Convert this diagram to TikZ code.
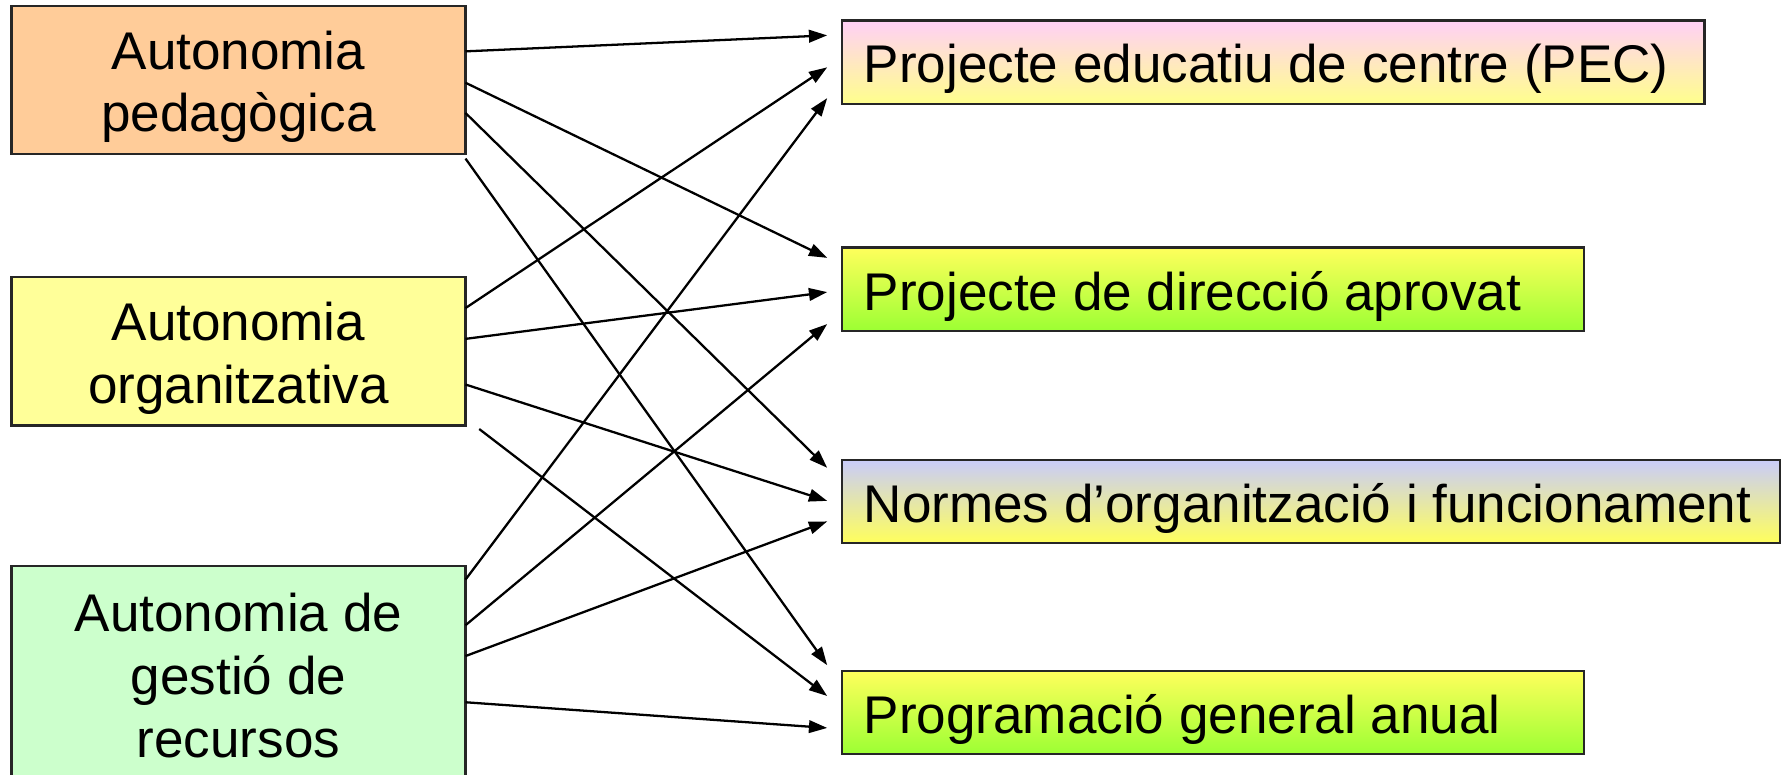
\documentclass[tikz,border=0pt]{standalone}
\usepackage{fontspec}
\setmainfont{Liberation Sans}
\usetikzlibrary{arrows.meta}
\definecolor{lorange}{HTML}{FFCC99}
\definecolor{lyellow}{HTML}{FFFF99}
\definecolor{lgreen}{HTML}{CCFFCC}
\definecolor{gpink}{HTML}{FFD0F6}
\definecolor{gyel}{HTML}{FFFF8C}
\definecolor{gyel2}{HTML}{FFFF5C}
\definecolor{ggreen}{HTML}{9CFF33}
\definecolor{glav}{HTML}{C9CCFA}
\begin{document}
\begin{tikzpicture}[x=1pt,y=-1pt,
  every node/.style={inner sep=0pt, outer sep=0pt},
  lbox/.style={draw=black!85, line width=2pt, minimum width=398pt, anchor=north west},
  ltext/.style={align=center, font=\fontsize{46.5}{55}\selectfont},
  rbox/.style={draw=black!85, line width=2pt, minimum height=73pt, anchor=north west},
  rtext/.style={anchor=west, font=\fontsize{46.5}{53}\selectfont},
  arr/.style={line width=2pt, -{Triangle[length=16pt,width=11pt]}}]
\useasboundingbox (0,0) rectangle (1568,678.4);
% left boxes
\node[lbox, fill=lorange, minimum height=130pt] (A) at (10,5) {};
\node[lbox, fill=lyellow, minimum height=130pt] (B) at (10,243) {};
\node[lbox, fill=lgreen, minimum height=200pt] (C) at (10,496) {};
\node[ltext] (At) at (209,76) {Autonomia\\pedagògica};
\node[ltext] (Bt) at (209,314) {Autonomia\\organitzativa};
\node[ltext] (Ct) at (209,592) {Autonomia de\\gestió de\\recursos};
% right boxes
\node[rbox, minimum width=756pt, top color=gpink, bottom color=gyel] (P) at (738,18) {};
\node[rbox, minimum width=650pt, top color=gyel2, bottom color=ggreen] (D) at (738,217) {};
\node[rbox, minimum width=822pt, top color=glav, bottom color=gyel2] (N) at (738,403) {};
\node[rbox, minimum width=650pt, top color=gyel2, bottom color=ggreen] (G) at (738,588) {};
\node[rtext] (Pt) at ([xshift=19pt,yshift=-6pt]P.west) {Projecte educatiu de centre (PEC)};
\node[rtext] (Dt) at ([xshift=19pt,yshift=-6pt]D.west) {Projecte de direcció aprovat};
\node[rtext] (Nt) at ([xshift=19pt,yshift=-6pt]N.west) {Normes d’organització i funcionament};
\node[rtext] (Gt) at ([xshift=19pt,yshift=-6pt]G.west) {Programació general anual};
% arrows from A
\draw[arr] ([yshift=-40pt]A.north east) -- ([xshift=-13pt,yshift=-13pt]P.north west);
\draw[arr] ([yshift=-67.5pt]A.north east) -- ([xshift=-13pt,yshift=-9pt]D.north west);
\draw[arr] ([yshift=-94pt]A.north east) -- ([xshift=-13pt,yshift=-7pt]N.north west);
\draw[arr] ([yshift=-134pt]A.north east) -- ([xshift=-13pt,yshift=5pt]G.north west);
% arrows from B
\draw[arr] ([yshift=-27pt]B.north east) -- ([xshift=-13pt,yshift=-41pt]P.north west);
\draw[arr] ([yshift=-54pt]B.north east) -- ([xshift=-13pt,yshift=-39pt]D.north west);
\draw[arr] ([yshift=-94pt]B.north east) -- ([xshift=-13pt,yshift=-36pt]N.north west);
\draw[arr] ([xshift=12pt,yshift=-133pt]B.north east) -- ([xshift=-13pt,yshift=-22pt]G.north west);
% arrows from C
\draw[arr] ([yshift=-12pt]C.north east) -- ([xshift=-13pt,yshift=-68pt]P.north west);
\draw[arr] ([yshift=-52pt]C.north east) -- ([xshift=-13pt,yshift=-67pt]D.north west);
\draw[arr] ([yshift=-79pt]C.north east) -- ([xshift=-13pt,yshift=-54pt]N.north west);
\draw[arr] ([yshift=-119.5pt]C.north east) -- ([xshift=-13pt,yshift=-50pt]G.north west);
\end{tikzpicture}
\end{document}
